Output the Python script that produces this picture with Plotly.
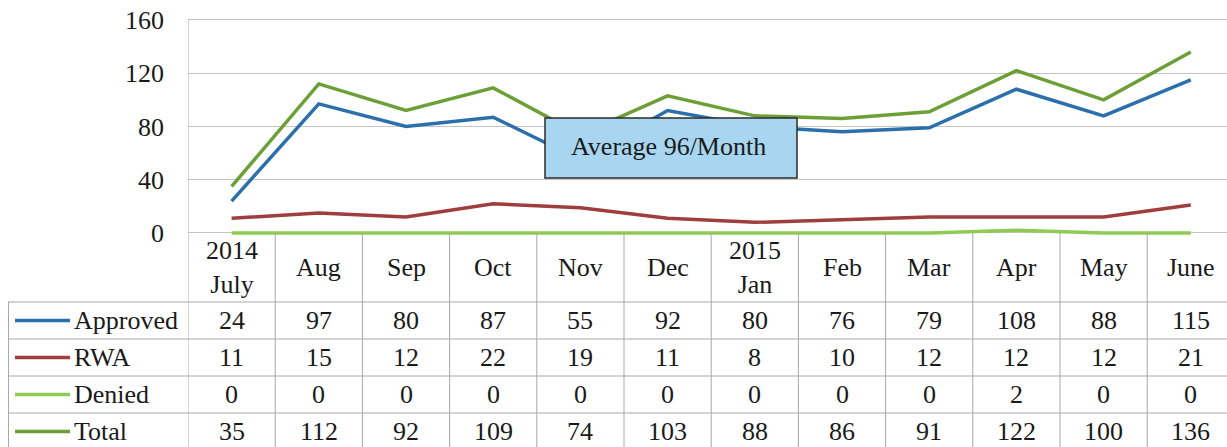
import plotly.graph_objects as go

months = ["2014<br>July", "Aug", "Sep", "Oct", "Nov", "Dec", "2015<br>Jan",
          "Feb", "Mar", "Apr", "May", "June"]
approved = [24, 97, 80, 87, 55, 92, 80, 76, 79, 108, 88, 115]
rwa = [11, 15, 12, 22, 19, 11, 8, 10, 12, 12, 12, 21]
denied = [0, 0, 0, 0, 0, 0, 0, 0, 0, 2, 0, 0]
total = [35, 112, 92, 109, 74, 103, 88, 86, 91, 122, 100, 136]
y_ticks = [0, 40, 80, 120, 160]
note = "Average 96/Month"

series = [
    ("Approved", approved, "#2b6fab"),
    ("RWA", rwa, "#a03d3d"),
    ("Denied", denied, "#8fcb54"),
    ("Total", total, "#6c9f35"),
]

W, H = 1227, 447
L = 188
COLW = 87.2
FONT = "Times New Roman, Liberation Serif, DejaVu Serif, serif"
FS = 26
GRID = "#c4c4c4"
TBL = "#a8a8a8"

def py(px):
    return 1 - px / H

def pxp(px):
    return (px - L) / (W - L)

x = list(range(len(months)))
fig = go.Figure()
for name, vals, col in series:
    fig.add_trace(go.Scatter(x=x, y=vals, mode="lines", name=name,
                             line=dict(color=col, width=3.5), hoverinfo="skip"))

ppu = (233 - 20) / 160
ymin, ymax = -2, 161
fig.update_layout(
    width=W, height=H,
    margin=dict(l=L, r=0, t=0, b=0, autoexpand=False),
    paper_bgcolor="white", plot_bgcolor="white",
    showlegend=False,
    font=dict(family=FONT, size=FS, color="#1a1a1a"),
    xaxis=dict(range=[-0.5, -0.5 + (W - L) / COLW], showticklabels=False,
               showgrid=False, zeroline=False, showline=False, automargin=False),
    yaxis=dict(domain=[py(233 + (-ymin) * ppu), py(20 - (ymax - 160) * ppu)],
               range=[ymin, ymax],
               tickvals=y_ticks, ticktext=[str(v) for v in y_ticks],
               showgrid=True, gridcolor=GRID, gridwidth=1, zeroline=False,
               showline=False, ticks="", ticklabelstandoff=23, automargin=False,
               ticklabeloverflow="allow",
               tickfont=dict(family=FONT, size=FS, color="#1a1a1a")),
)

shapes = []
shapes.append(dict(type="line", xref="x", yref="paper", x0=-0.5, x1=-0.5,
                   y0=py(20), y1=py(470), line=dict(color=TBL, width=1)))
for i in range(len(months)):
    shapes.append(dict(type="line", xref="x", yref="paper", x0=i + 0.5, x1=i + 0.5,
                       y0=py(233), y1=py(470), line=dict(color=TBL, width=1)))
row_edges = [302, 339, 376, 413]
for r in row_edges:
    shapes.append(dict(type="line", xref="paper", yref="paper", x0=pxp(8), x1=1.01,
                       y0=py(r), y1=py(r), line=dict(color=TBL, width=1)))
shapes.append(dict(type="line", xref="paper", yref="paper", x0=pxp(8.5), x1=pxp(8.5),
                   y0=py(302), y1=py(470), line=dict(color=TBL, width=1)))
shapes.append(dict(type="rect", xref="paper", yref="paper", x0=pxp(545), x1=pxp(797),
                   y0=py(178), y1=py(118), fillcolor="#a8d6f0",
                   line=dict(color="#2a2a2a", width=1.5), layer="above"))

annotations = []
for i, m in enumerate(months):
    annotations.append(dict(x=i, y=py(267.5), xref="x", yref="paper", text=m,
                            showarrow=False, font=dict(family=FONT, size=FS),
                            xanchor="center", yanchor="middle"))
row_centers = [320.5, 357.5, 394.5, 431.5]
for (name, vals, col), rc in zip(series, row_centers):
    shapes.append(dict(type="line", xref="paper", yref="paper", x0=pxp(15), x1=pxp(70),
                       y0=py(rc), y1=py(rc), line=dict(color=col, width=3.5)))
    annotations.append(dict(x=pxp(72), y=py(rc), xref="paper", yref="paper", text=name,
                            showarrow=False, font=dict(family=FONT, size=FS),
                            xanchor="left", yanchor="middle"))
    for i, v in enumerate(vals):
        annotations.append(dict(x=i, y=py(rc), xref="x", yref="paper", text=str(v),
                                showarrow=False, font=dict(family=FONT, size=FS),
                                xanchor="center", yanchor="middle"))
annotations.append(dict(x=pxp(668), y=py(146), xref="paper", yref="paper", text=note,
                        showarrow=False, font=dict(family=FONT, size=FS),
                        xanchor="center", yanchor="middle"))

fig.update_layout(shapes=shapes, annotations=annotations)
fig.write_html("out.html", config={"displayModeBar": False, "staticPlot": True},
               post_script="document.body.style.margin='0px';document.body.style.overflow='hidden';")
